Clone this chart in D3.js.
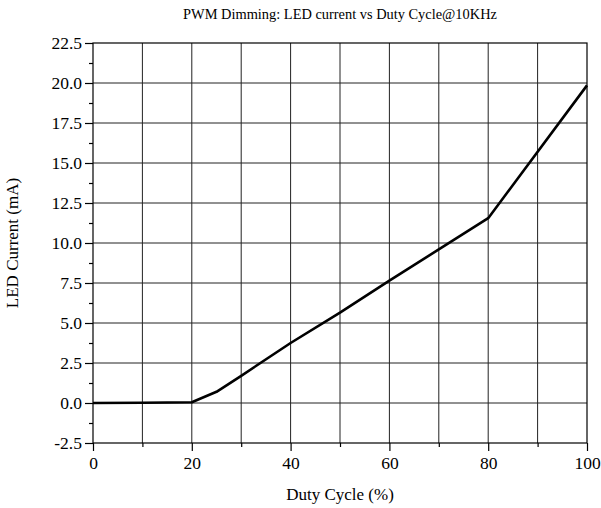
<!DOCTYPE html>
<html>
<head>
<meta charset="utf-8">
<script src="https://cdn.jsdelivr.net/npm/d3@7/dist/d3.min.js"></script>
<style>
  body { margin: 0; background: #fff; }
  svg text { font-family: "Liberation Serif", "Times New Roman", serif !important; fill: #000; }
</style>
</head>
<body>
<div id="chart"></div>
<script>
const width = 601, height = 508;
const margin = {top: 43, right: 14, bottom: 65, left: 93};

// Duty cycle (%) and LED current (mA)
const duty = [0, 10, 20, 25, 30, 40, 50, 60, 70, 80, 100];
const current = [0, 0.02, 0.05, 0.7, 1.7, 3.75, 5.65, 7.65, 9.6, 11.55, 19.85];

const xTicks = [0, 20, 40, 60, 80, 100];
const xMinor = [10, 30, 50, 70, 90];
const yTicks = [-2.5, 0, 2.5, 5, 7.5, 10, 12.5, 15, 17.5, 20, 22.5];
const yMinor = [-1.25, 1.25, 3.75, 6.25, 8.75, 11.25, 13.75, 16.25, 18.75, 21.25];

const svg = d3.select('#chart')
    .append('svg')
    .attr('width', width)
    .attr('height', height);

const x = d3.scaleLinear().domain([0, 100]).range([margin.left, width - margin.right]);
const y = d3.scaleLinear().domain([-2.5, 22.5]).range([height - margin.bottom, margin.top]);

// grid
svg.append('g')
    .selectAll('line')
    .data(d3.range(10, 100, 10))
    .enter()
    .append('line')
      .attr('x1', d => x(d)).attr('x2', d => x(d))
      .attr('y1', y(-2.5)).attr('y2', y(22.5))
      .attr('stroke', '#222').attr('stroke-width', 1);

svg.append('g')
    .selectAll('line')
    .data(yTicks.slice(1, -1))
    .enter()
    .append('line')
      .attr('y1', d => y(d)).attr('y2', d => y(d))
      .attr('x1', x(0)).attr('x2', x(100))
      .attr('stroke', '#222').attr('stroke-width', 1);

// frame
svg.append('rect')
    .attr('x', x(0)).attr('y', y(22.5))
    .attr('width', x(100) - x(0)).attr('height', y(-2.5) - y(22.5))
    .attr('fill', 'none').attr('stroke', '#000').attr('stroke-width', 1.2);

// axes
svg.append('g')
    .attr('transform', `translate(0,${y(-2.5)})`)
    .call(d3.axisBottom(x).tickValues(xTicks).tickSize(8).tickPadding(6).tickFormat(d => d.toFixed(0)));
svg.append('g')
    .attr('transform', `translate(0,${y(-2.5)})`)
    .call(d3.axisBottom(x).tickValues(xMinor).tickSize(4).tickFormat(''));

svg.append('g')
    .attr('transform', `translate(${x(0)},0)`)
    .call(d3.axisLeft(y).tickValues(yTicks).tickSize(8).tickPadding(3).tickFormat(d => d.toFixed(1)));
svg.append('g')
    .attr('transform', `translate(${x(0)},0)`)
    .call(d3.axisLeft(y).tickValues(yMinor).tickSize(4).tickFormat(''));

svg.selectAll('.domain').remove();
svg.selectAll('g').attr('font-family', '"Liberation Serif", serif').attr('font-size', 17.5);
svg.selectAll('.tick line').attr('stroke', '#000').attr('stroke-width', 1.2);
svg.selectAll('.tick text').attr('fill', '#000');

// data line
const line = d3.line()
    .x((d, i) => x(duty[i]))
    .y(d => y(d));

svg.append('path')
    .datum(current)
    .attr('d', line)
    .attr('fill', 'none')
    .attr('stroke', '#000')
    .attr('stroke-width', 2.6)
    .attr('stroke-linejoin', 'round');

// title and labels
svg.append('text')
    .attr('x', (x(0) + x(100)) / 2)
    .attr('y', 19)
    .attr('text-anchor', 'middle')
    .style('font-size', '14.4px')
    .text('PWM Dimming: LED current vs Duty Cycle@10KHz');

svg.append('text')
    .attr('x', (x(0) + x(100)) / 2)
    .attr('y', 500)
    .attr('text-anchor', 'middle')
    .style('font-size', '17px')
    .text('Duty Cycle (%)');

svg.append('text')
    .attr('transform', `translate(18,${(y(-2.5) + y(22.5)) / 2}) rotate(-90)`)
    .attr('text-anchor', 'middle')
    .style('font-size', '17px')
    .text('LED Current (mA)');
</script>
</body>
</html>
